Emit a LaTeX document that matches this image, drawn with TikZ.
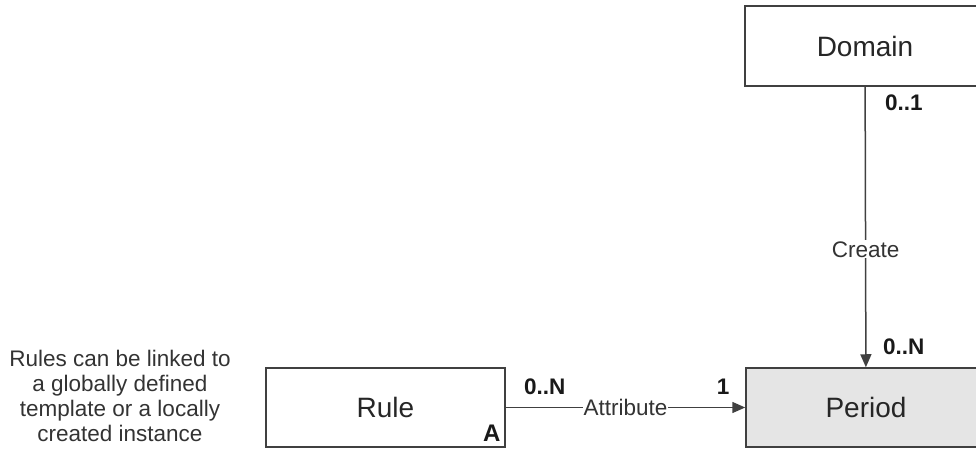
\documentclass[tikz,border=0pt]{standalone}
\usepackage{fontspec}
\setmainfont{Liberation Sans}
\usetikzlibrary{arrows.meta,positioning}

\tikzset{
  entity/.style={draw=black!75, line width=1.5pt, minimum width=240pt, minimum height=80pt,
                 inner sep=0pt, font=\fontsize{28}{30}\selectfont, text=black!85},
  card/.style={font=\fontsize{22.5}{24}\selectfont\bfseries, inner sep=0pt, text=black!90},
  rel/.style={draw=black!75, line width=1.5pt, -{Triangle[length=13pt,width=11pt]}},
  rellabel/.style={fill=white, inner sep=1pt, font=\fontsize{22.5}{24}\selectfont, text=black!80}
}

\begin{document}
\begin{tikzpicture}[x=1pt, y=1pt]
    \clip (0,0) rectangle (976,449);
    % entities
    \node[entity] (domain) at (865,403) {Domain};
    \node[entity, fill=black!10, minimum height=79pt] (period) at (866,41.5) {Period};
    \node[entity, minimum width=239pt, minimum height=79pt] (rule) at (385.5,41.5) {Rule};
    \node[card, font=\fontsize{24}{26}\selectfont\bfseries, anchor=south east] (abstract)
        at ([xshift=-5pt, yshift=6pt]rule.south east) {A};
    % note
    \node[align=center, font=\fontsize{22.5}{25.3}\selectfont, text=black!80] (note) at (120,53)
        {Rules can be linked to\\a globally defined\\template or a locally\\created instance};
    % relations
    \draw[rel] (domain) -- node[rellabel, pos=0.58] {Create} (period);
    \draw[rel] (rule) -- node[rellabel, pos=0.5] {Attribute} (period);
    % cardinalities
    \node[card, anchor=west] (domaincard) at (885,346) {0..1};
    \node[card, anchor=west] (periodcardtop) at (883,102) {0..N};
    \node[card, anchor=west] (rulecard) at (524,62) {0..N};
    \node[card] (periodcardleft) at (723,62) {1};
\end{tikzpicture}
\end{document}
